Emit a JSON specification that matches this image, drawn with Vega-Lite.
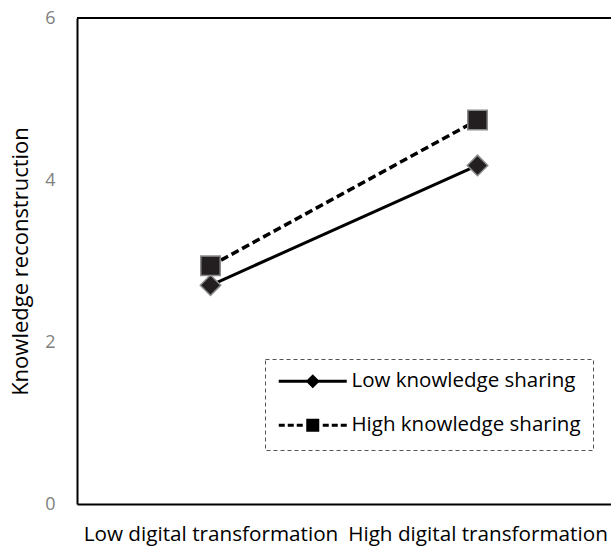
{
  "$schema": "https://vega.github.io/schema/vega-lite/v6.json",
  "width": 534,
  "height": 486,
  "autosize": {"type": "none"},
  "padding": {"left": 77, "top": 18, "right": 0, "bottom": 45},
  "config": {"view": {"stroke": null}, "font": "Open Sans", "legend": {"strokeDash": [4, 3]}},
  "data": {
    "values": [
      {"dt": "Low digital transformation", "ks": "Low knowledge sharing", "value": 2.70},
      {"dt": "High digital transformation", "ks": "Low knowledge sharing", "value": 4.18},
      {"dt": "Low digital transformation", "ks": "High knowledge sharing", "value": 2.94},
      {"dt": "High digital transformation", "ks": "High knowledge sharing", "value": 4.74}
    ]
  },
  "layer": [
    {
      "mark": {"type": "rule", "color": "black", "strokeWidth": 2},
      "encoding": {
        "y": {
          "datum": 6, "type": "quantitative", "scale": {"domain": [0, 6]},
          "axis": {"values": [0, 2, 4, 6], "format": "d", "title": "Knowledge reconstruction", "grid": false, "ticks": false, "domainColor": "black", "domainWidth": 2, "labelColor": "#808080", "labelFontSize": 18, "labelPadding": 22, "titleFontSize": 22, "titleFontWeight": "normal", "titleColor": "black", "titlePadding": 12}
        }
      }
    },
    {
      "transform": [{"filter": "datum.ks == 'Low knowledge sharing'"}],
      "mark": {"type": "line", "color": "black", "strokeWidth": 3},
      "encoding": {
        "x": {
          "field": "dt", "type": "nominal",
          "sort": ["Low digital transformation", "High digital transformation"],
          "scale": {"type": "point", "padding": 0.5},
          "axis": {"title": null, "labelAngle": 0, "labelFontSize": 20.7, "labelLimit": 0, "labelColor": "black", "labelPadding": 20, "domainColor": "black", "domainWidth": 2, "ticks": false, "grid": false}
        },
        "y": {
          "field": "value", "type": "quantitative",
          "scale": {"domain": [0, 6]},
          "axis": {"values": [0, 2, 4, 6], "format": "d", "title": "Knowledge reconstruction", "grid": false, "ticks": false, "domainColor": "black", "domainWidth": 2, "labelColor": "#808080", "labelFontSize": 18, "labelPadding": 22, "titleFontSize": 22, "titleFontWeight": "normal", "titleColor": "black", "titlePadding": 12}
        }
      }
    },
    {
      "transform": [{"filter": "datum.ks == 'High knowledge sharing'"}],
      "mark": {"type": "line", "color": "black", "strokeWidth": 3.5, "strokeDash": [8, 4]},
      "encoding": {
        "x": {"field": "dt", "type": "nominal", "sort": ["Low digital transformation", "High digital transformation"]},
        "y": {"field": "value", "type": "quantitative"}
      }
    },
    {
      "transform": [{"filter": "datum.ks == 'Low knowledge sharing'"}],
      "mark": {"type": "point", "shape": "diamond", "filled": true, "fill": "#231f20", "stroke": "#8c8c8c", "strokeWidth": 1.5, "opacity": 1, "size": 420},
      "encoding": {
        "x": {"field": "dt", "type": "nominal", "sort": ["Low digital transformation", "High digital transformation"]},
        "y": {"field": "value", "type": "quantitative"}
      }
    },
    {
      "transform": [{"filter": "datum.ks == 'High knowledge sharing'"}],
      "mark": {"type": "point", "shape": "square", "filled": true, "fill": "#231f20", "stroke": "#8c8c8c", "strokeWidth": 1.5, "opacity": 1, "size": 380},
      "encoding": {
        "x": {"field": "dt", "type": "nominal", "sort": ["Low digital transformation", "High digital transformation"]},
        "y": {"field": "value", "type": "quantitative"}
      }
    },
    {
      "transform": [{"filter": "datum.value > 100"}],
      "mark": {"type": "point", "filled": true, "fill": "black", "stroke": "black", "strokeWidth": 2.8, "opacity": 1, "size": 100},
      "encoding": {
        "x": {"field": "dt", "type": "nominal", "sort": ["Low digital transformation", "High digital transformation"]},
        "y": {"field": "value", "type": "quantitative"},
        "shape": {
          "field": "ks", "type": "nominal",
          "scale": {
            "domain": ["Low knowledge sharing", "High knowledge sharing"],
            "range": [
              "M-6.8,-0.28H6.8V0.28H-6.8ZM0,-1.4L1.4,0L0,1.4L-1.4,0Z",
              "M-6.8,-0.28H-5.6V0.28H-6.8ZM-5.0,-0.28H-3.8V0.28H-5.0ZM-3.2,-0.28H-2.0V0.28H-3.2ZM2.0,-0.28H3.2V0.28H2.0ZM3.8,-0.28H5.0V0.28H3.8ZM5.6,-0.28H6.8V0.28H5.6ZM-1.3,-1.3H1.3V1.3H-1.3Z"
            ]
          },
          "legend": {
            "title": null,
            "orient": "none",
            "legendX": 188,
            "legendY": 341,
            "strokeColor": "#555555",
            "padding": 12,
            "labelFontSize": 20.5,
            "labelColor": "black",
            "labelLimit": 0,
            "symbolSize": 100,
            "symbolFillColor": "black",
            "symbolStrokeColor": "black",
            "symbolStrokeWidth": 2.8,
            "symbolOpacity": 1,
            "symbolOffset": 25.5,
            "labelOffset": 28.5,
            "rowPadding": 19
          }
        }
      }
    }
  ]
}
